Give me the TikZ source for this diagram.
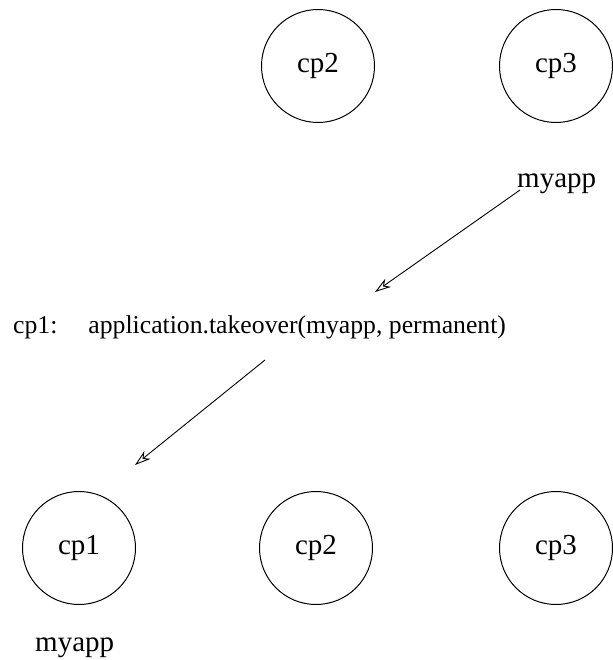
\documentclass[tikz,border=0pt]{standalone}
\usepackage{fontspec}
\setmainfont{Liberation Serif}
\usetikzlibrary{arrows.meta}
\begin{document}
\begin{tikzpicture}[x=1pt,y=1pt,
  proc/.style={circle,draw,line width=1pt,minimum size=113pt,inner sep=0pt,font=\fontsize{29}{31}\selectfont},
  lbl/.style={inner sep=0pt,font=\fontsize{29}{31}\selectfont},
  msg/.style={inner sep=0pt,font=\fontsize{25.7}{30}\selectfont},
  flow/.style={line width=0.9pt,-{Stealth[open,length=16pt,width=10pt,inset=5pt]}}]
\useasboundingbox (0,0) rectangle (612,-660);
% top row
\node[proc] (tcp2) at (318,-66) {cp2};
\node[proc] (tcp3) at (556,-66) {cp3};
\node[lbl,anchor=base west] (tapp) at (517,-188) {myapp};
% call
\node[msg,anchor=base west] (call) at (13,-333) {cp1:\hspace{31pt}application.takeover(myapp, permanent)};
% bottom row
\node[proc] (bcp1) at (79,-548) {cp1};
\node[proc] (bcp2) at (316,-548) {cp2};
\node[proc] (bcp3) at (556,-548) {cp3};
\node[lbl,anchor=base west] (bapp) at (35,-651) {myapp};
% connectors
\coordinate (a1s) at (520,-190);
\coordinate (a1e) at (375,-292);
\coordinate (a2s) at (265,-360);
\coordinate (a2e) at (135,-465);
\draw[flow] (a1s) -- (a1e);
\draw[flow] (a2s) -- (a2e);
\end{tikzpicture}
\end{document}
